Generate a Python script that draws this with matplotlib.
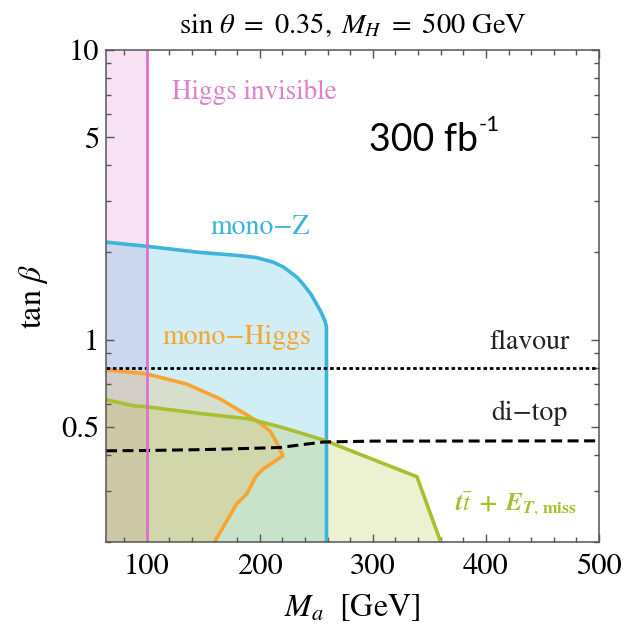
import matplotlib
matplotlib.use('Agg')
import matplotlib.pyplot as plt
from matplotlib.ticker import FixedLocator, NullFormatter
import numpy as np

plt.rcParams['font.family'] = 'STIXGeneral'
plt.rcParams['mathtext.fontset'] = 'stix'

# axis ranges
ma_min, ma_max = 64, 500
tb_min, tb_max = 0.2, 10

# Higgs invisible bound (M_a below this is excluded)
higgs_inv_ma = 100

# mono-Z boundary
monoz_ma = [64, 100, 147, 182, 197, 212, 221, 233, 238, 245, 253.5, 256, 258, 259, 259]
monoz_tb = [2.17, 2.10, 2.00, 1.95, 1.92, 1.85, 1.78, 1.64, 1.56, 1.44, 1.26, 1.20, 1.15, 1.10, 0.2]

# mono-Higgs closed region (top edge left->right, then back down)
monoh_ma = [64, 100, 135, 165, 197, 209, 215, 220.5, 203, 197, 188.5, 179.6, 160]
monoh_tb = [0.787, 0.761, 0.703, 0.624, 0.525, 0.484, 0.441, 0.397, 0.357, 0.339, 0.293, 0.271, 0.2]

# ttbar + MET boundary
ttmet_ma = [64, 88, 100, 147, 191, 220, 256.5, 339, 360]
ttmet_tb = [0.620, 0.591, 0.586, 0.556, 0.532, 0.497, 0.450, 0.336, 0.2]

# di-top line
ditop_ma = [64, 100, 150, 191, 218, 236, 256.5, 300, 500]
ditop_tb = [0.413, 0.414, 0.417, 0.421, 0.424, 0.433, 0.443, 0.446, 0.447]

# flavour bound
flavour_tb = 0.80

# tick labels
x_major = [100, 200, 300, 400, 500]
y_major = [0.5, 1, 5, 10]
y_labels = ['0.5', '1', '5', '10']

# colours
pink = '#d96fc8'
blue = '#3cb4dc'
orange = '#f7a530'
green = '#a8c030'
frame = '#555555'

fig = plt.figure(figsize=(6.26, 6.32), dpi=100)
ax = fig.add_axes([106/626, 90/632, 493/626, 492/632])

# filled regions
ax.fill_betweenx([tb_min, tb_max], ma_min, higgs_inv_ma, color=pink, alpha=0.2, lw=0)
ax.fill(monoz_ma + [ma_min], monoz_tb + [tb_min], color=blue, alpha=0.23, lw=0)
ax.fill(ttmet_ma + [ma_min], ttmet_tb + [tb_min], color=green, alpha=0.22, lw=0)
ax.fill(monoh_ma + [ma_min], monoh_tb + [tb_min], color=orange, alpha=0.2, lw=0)

# boundaries
ax.plot(monoz_ma, monoz_tb, color=blue, lw=2.6, solid_joinstyle='round')
ax.plot(monoh_ma, monoh_tb, color=orange, lw=2.6, solid_joinstyle='round')
ax.plot(ttmet_ma, ttmet_tb, color=green, lw=2.6, solid_joinstyle='round')
ax.plot(ditop_ma, ditop_tb, color='black', lw=2.2, dashes=(3.6, 1.8))
ax.axhline(flavour_tb, color='black', lw=2.0, dashes=(1.3, 1.0))
ax.axvline(higgs_inv_ma, color=pink, lw=1.9)

# labels in the plot
ax.text(122, 7.16, 'Higgs invisible', color='#dc80cf', fontsize=19.5, ha='left', va='center')
t1 = ax.text(297, 4.88, '300 fb', color='black', fontsize=27, family='Lato', ha='left', va='center')
ax.annotate('-1', xy=(1.0, 0.92), xycoords=t1, fontsize=16, family='Lato', ha='left', va='center')
ax.text(200, 2.44, 'mono\u2212Z', color=blue, fontsize=20, ha='center', va='center')
ax.text(179.6, 1.016, 'mono\u2212Higgs', color=orange, fontsize=20, ha='center', va='center')
ax.text(474, 0.979, 'flavour', color='#222222', fontsize=20, ha='right', va='center')
ax.text(472.6, 0.555, 'di\u2212top', color='#222222', fontsize=20, ha='right', va='center')
ax.text(480.5, 0.271, r'$\boldsymbol{t\bar t\ +\ E}_{\boldsymbol{T},\,\mathbf{miss}}$',
        color=green, fontsize=18, ha='right', va='center')

# axes and ticks
ax.set_xlim(ma_min, ma_max)
ax.set_yscale('log')
ax.set_ylim(tb_min, tb_max)
ax.xaxis.set_major_locator(FixedLocator(x_major))
ax.xaxis.set_minor_locator(FixedLocator(np.arange(80, 500, 20)))
ax.yaxis.set_major_locator(FixedLocator(y_major))
ax.set_yticklabels(y_labels)
y_minor = [v * d for d in (0.1, 1) for v in range(2, 11)]
ax.yaxis.set_minor_locator(FixedLocator([v for v in y_minor if v not in y_major]))
ax.yaxis.set_minor_formatter(NullFormatter())

ax.tick_params(which='both', direction='in', top=True, right=True, color=frame, width=1)
ax.tick_params(which='major', length=6, labelsize=22, pad=5)
ax.tick_params(axis='x', which='major', pad=8)
ax.tick_params(which='minor', length=3.5)
for s in ax.spines.values():
    s.set_color(frame)
    s.set_linewidth(1.1)

ax.set_title(r'$\sin\,\theta\ =\ 0.35,\; M_H\ =\ 500\ \mathrm{GeV}$', fontsize=20.5, pad=12)
ax.set_xlabel(r'$M_a\ \ [\mathrm{GeV}]$', fontsize=23, labelpad=8)
ax.set_ylabel(r'$\tan\,\beta$', fontsize=23, labelpad=8)

fig.savefig('out.png', dpi=100)
